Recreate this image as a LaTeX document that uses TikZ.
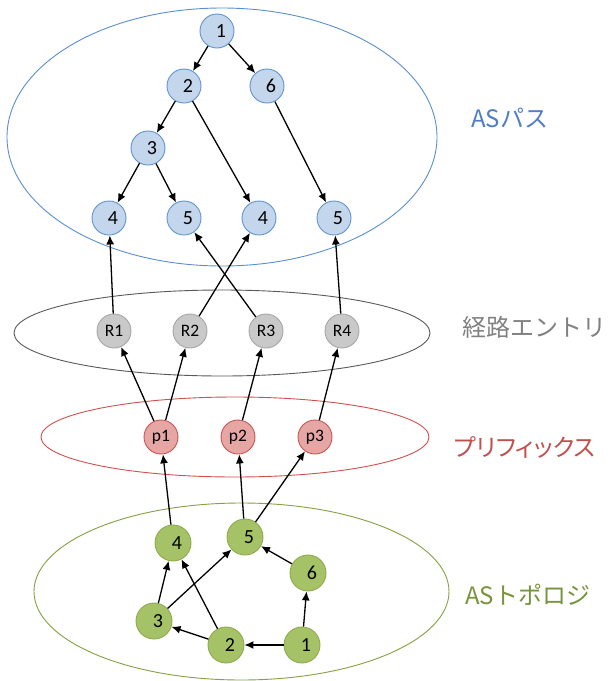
\documentclass[tikz,border=0pt]{standalone}
\usepackage{fontspec}
\setmainfont{Carlito}
\newfontfamily\jp{Noto Sans CJK JP}
\newfontfamily\jpp[RawFeature=+palt]{Noto Sans CJK JP}
\usetikzlibrary{arrows.meta}
\definecolor{bfill}{HTML}{C4D6EC}
\definecolor{bdraw}{HTML}{5F93CF}
\definecolor{bell}{HTML}{5A8FCF}
\definecolor{btext}{HTML}{4F7FC2}
\definecolor{gfill}{HTML}{C9C9C9}
\definecolor{gdraw}{HTML}{A6A6A6}
\definecolor{gell}{HTML}{595959}
\definecolor{gtext}{HTML}{808080}
\definecolor{rfill}{HTML}{E6A6A4}
\definecolor{rdraw}{HTML}{C65552}
\definecolor{rell}{HTML}{D0504D}
\definecolor{rtext}{HTML}{C0504D}
\definecolor{vfill}{HTML}{A5C266}
\definecolor{vdraw}{HTML}{8DAA4C}
\definecolor{vell}{HTML}{86A042}
\definecolor{vtext}{HTML}{77933C}
\newcommand{\dg}[1]{\hspace{8pt}\raisebox{-1.5pt}{#1}}
\begin{document}
\begin{tikzpicture}[x=1pt,y=-1pt,
  nd/.style={circle,minimum size=34pt,inner sep=0pt,line width=0.9pt,font=\fontsize{20}{20}\selectfont},
  bn/.style={nd,fill=bfill,draw=bdraw},
  gn/.style={nd,fill=gfill,draw=gdraw,font=\fontsize{17.5}{17.5}\selectfont},
  rn/.style={nd,fill=rfill,draw=rdraw,font=\fontsize{17.5}{17.5}\selectfont},
  vn/.style={nd,fill=vfill,draw=vdraw,minimum size=36pt},
  arr/.style={-{Latex[length=9pt,width=8pt]},line width=1.3pt},
  ell/.style={line width=0.9pt},
  lab/.style={anchor=west,inner sep=0pt,font=\jp\fontsize{24}{24}\selectfont}]
\useasboundingbox (0,0) rectangle (612,681);
% ellipses
\draw[ell,draw=bell] (222,137) ellipse [x radius=215pt, y radius=129pt];
\draw[ell,draw=gell] (222,333) ellipse [x radius=208pt, y radius=43pt];
\draw[ell,draw=rell] (235,437) ellipse [x radius=194pt, y radius=40pt];
\draw[ell,draw=vell] (241.5,591.5) ellipse [x radius=207.5pt, y radius=88.5pt];
% labels
\node[lab,text=btext] (lbA) at (471,118) {ASパス};
\node[lab,text=gtext] (lbB) at (462,327) {経路エントリ};
\node[lab,text=rtext,font=\jpp\fontsize{24}{24}\selectfont] (lbC) at (454,447) {プリフィックス};
\node[lab,text=vtext] (lbD) at (465,595) {ASトポロジ};
% AS path tree
\node[bn] (a1) at (217,31) {\dg{1}};
\node[bn] (a2) at (184,86) {\dg{2}};
\node[bn] (a6) at (267,86) {\dg{6}};
\node[bn] (a3) at (148,148) {\dg{3}};
\node[bn] (a4) at (109,218) {\dg{4}};
\node[bn] (a5) at (184,218) {\dg{5}};
\node[bn] (b4) at (259,218) {\dg{4}};
\node[bn] (b5) at (334,218) {\dg{5}};
% route entries
\node[gn] (r1) at (114,331) {R1};
\node[gn] (r2) at (190,331) {R2};
\node[gn] (r3) at (266,331) {R3};
\node[gn] (r4) at (342,331) {R4};
% prefixes
\node[rn] (p1) at (161,437) {p1};
\node[rn] (p2) at (238,437) {p2};
\node[rn] (p3) at (315,437) {p3};
% AS topology
\node[vn] (t4) at (173,543) {\dg{4}};
\node[vn] (t5) at (245,537) {\dg{5}};
\node[vn] (t6) at (308,573) {\dg{6}};
\node[vn] (t3) at (154,621) {\dg{3}};
\node[vn] (t2) at (226,645) {\dg{2}};
\node[vn] (t1) at (302,645) {\dg{1}};
% edges tree
\draw[arr] (a1) -- (a2);
\draw[arr] (a1) -- (a6);
\draw[arr] (a2) -- (a3);
\draw[arr] (a2) -- (b4);
\draw[arr] (a6) -- (b5);
\draw[arr] (a3) -- (a4);
\draw[arr] (a3) -- (a5);
% routes to paths
\draw[arr] (r1) -- (a4);
\draw[arr] (r2) -- (b4);
\draw[arr] (r3) -- (a5);
\draw[arr] (r4) -- (b5);
% prefixes to routes
\draw[arr] (p1) -- (r1);
\draw[arr] (p1) -- (r2);
\draw[arr] (p2) -- (r3);
\draw[arr] (p3) -- (r4);
% topology to prefixes
\draw[arr] (t4) -- (p1);
\draw[arr] (t5) -- (p2);
\draw[arr] (t5) -- (p3);
% topology
\draw[arr] (t1) -- (t2);
\draw[arr] (t1) -- (t6);
\draw[arr] (t2) -- (t3);
\draw[arr] (t2) -- (t4);
\draw[arr] (t3) -- (t4);
\draw[arr] (t3) -- (t5);
\draw[arr] (t6) -- (t5);
\end{tikzpicture}
\end{document}
